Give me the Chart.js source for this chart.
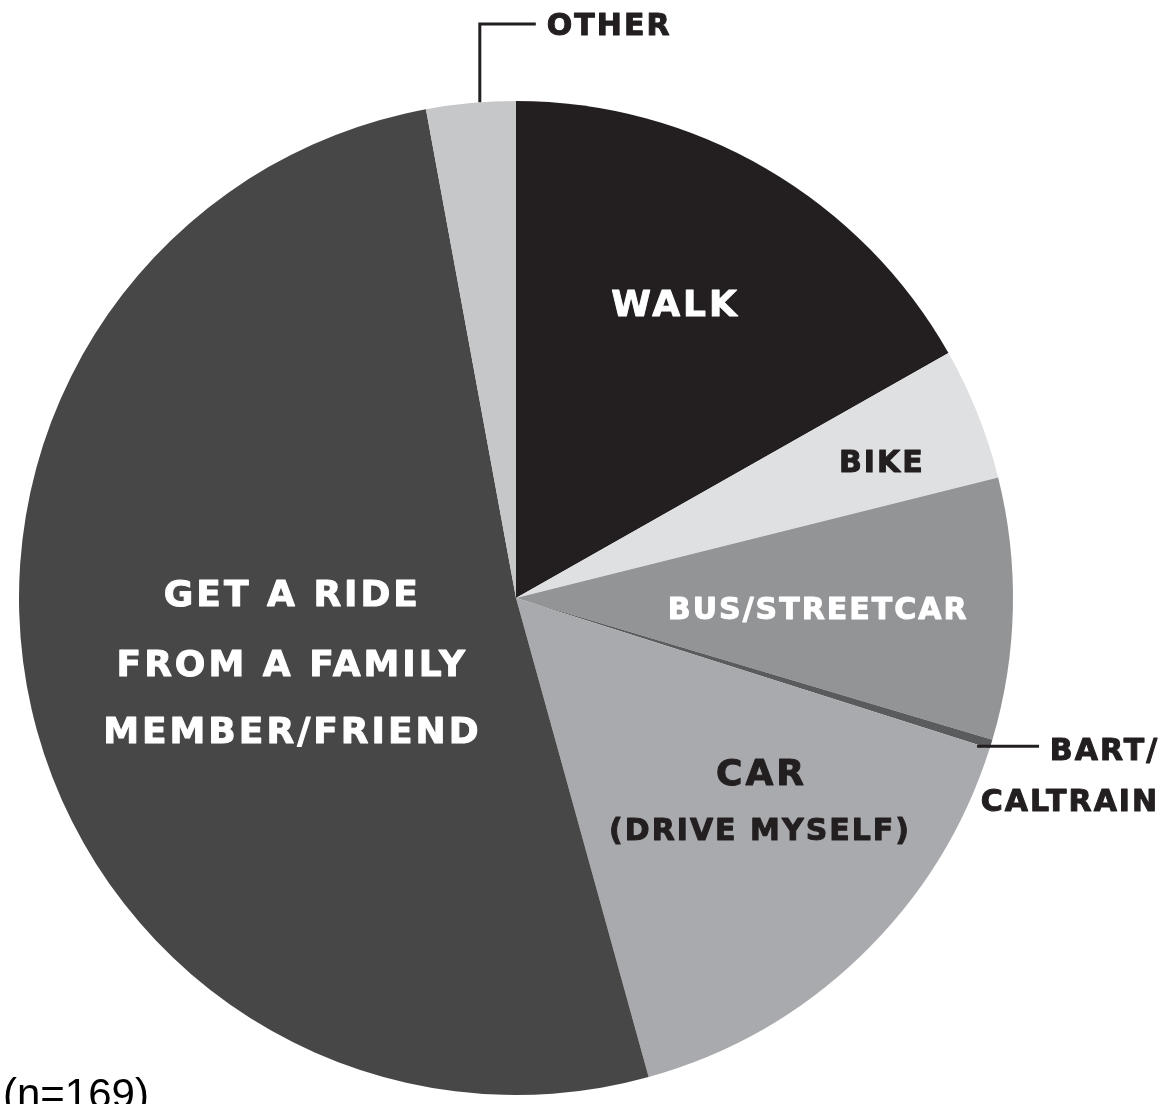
<!DOCTYPE html>
<html>
<head>
<meta charset="utf-8">
<script src="https://cdn.jsdelivr.net/npm/chart.js@4"></script>
<style>
  body { margin: 0; background: #fff; }
  canvas { display: block; }
</style>
</head>
<body>
<canvas id="pie" width="1165" height="1104"></canvas>
<script>
// how people get there (n=169), share in percent
const categories = ['WALK', 'BIKE', 'BUS/STREETCAR', 'BART/CALTRAIN', 'CAR (DRIVE MYSELF)', 'GET A RIDE FROM A FAMILY MEMBER/FRIEND', 'OTHER'];
const shares = [16.8, 4.3, 8.5, 0.3, 15.8, 51.4, 2.9];
const sampleNote = '(n=169)';

const sliceColors = ['#231f20', '#dfe0e2', '#939496', '#5a5b5d', '#a9aaad', '#474747', '#c6c7c9'];
const INK = '#231f20';

// text placed relative to the pie centre, in radius units
const labelItems = [
  { text: 'WALK', dx: 0.318, dy: -0.594, big: true, color: '#fff' },
  { text: 'BIKE', dx: 0.734, dy: -0.276, big: false, color: INK },
  { text: 'BUS/STREETCAR', dx: 0.606, dy: 0.020, big: false, color: '#fff' },
  { text: 'CAR', dx: 0.491, dy: 0.350, big: true, color: INK },
  { text: '(DRIVE MYSELF)', dx: 0.489, dy: 0.465, big: false, color: INK },
  { text: 'GET A RIDE', dx: -0.453, dy: -0.010, big: true, color: '#fff' },
  { text: 'FROM A FAMILY', dx: -0.453, dy: 0.131, big: true, color: '#fff' },
  { text: 'MEMBER/FRIEND', dx: -0.453, dy: 0.266, big: true, color: '#fff' },
  { text: 'BART/', dx: 1.290, dy: 0.303, big: false, color: INK, align: 'right' },
  { text: 'CALTRAIN', dx: 1.290, dy: 0.406, big: false, color: INK, align: 'right' },
  { text: 'OTHER', dx: 0.062, dy: -1.155, big: false, color: INK, align: 'left' }
];

function drawSpaced(ctx, text, x, yMid, size, spacing, color, align) {
  ctx.save();
  ctx.font = 'bold ' + size + 'px "DejaVu Sans"';
  ctx.letterSpacing = spacing + 'px';
  ctx.fillStyle = color;
  ctx.strokeStyle = color;
  ctx.lineWidth = 1;
  ctx.lineJoin = 'round';
  ctx.textAlign = 'left';
  ctx.textBaseline = 'alphabetic';
  const w = ctx.measureText(text).width - spacing;
  let left = x - w / 2;
  if (align === 'left') left = x;
  if (align === 'right') left = x - w;
  const base = yMid + size * 0.729 / 2;
  ctx.fillText(text, left, base);
  ctx.strokeText(text, left, base); // a touch heavier, like the poster type
  ctx.restore();
}

const pieLabels = {
  id: 'pieLabels',
  afterDraw(chart) {
    const ctx = chart.ctx;
    const arcs = chart.getDatasetMeta(0).data;
    const cx = arcs[0].x, cy = arcs[0].y, R = arcs[0].outerRadius;

    labelItems.forEach(l => {
      const size = l.big ? 36 : 30;
      const sp = l.big ? 3 : 2;
      drawSpaced(ctx, l.text, cx + l.dx * R, cy + l.dy * R, size, sp, l.color, l.align);
    });

    ctx.save();
    ctx.strokeStyle = INK;
    ctx.lineWidth = 3;
    ctx.lineCap = 'butt';

    // leader for OTHER: up from the slice edge, then across to the word
    const o = arcs[6];
    const oa = o.startAngle + (o.endAngle - o.startAngle) * 0.6;
    const ox = cx + R * Math.cos(oa), oy = cy + R * Math.sin(oa);
    const otherY = cy - 1.155 * R;
    ctx.beginPath();
    ctx.moveTo(ox, oy);
    ctx.lineTo(ox, otherY);
    ctx.lineTo(cx + 0.062 * R - 11, otherY);
    ctx.stroke();

    // leader for BART/CALTRAIN: short horizontal out of the thin slice
    const b = arcs[3];
    const bm = (b.startAngle + b.endAngle) / 2;
    const bx = cx + R * Math.cos(bm), by = cy + R * Math.sin(bm);
    ctx.beginPath();
    ctx.moveTo(bx - 14, by + 2);
    ctx.lineTo(bx + 48, by + 2);
    ctx.stroke();

    // sample size, bottom left
    ctx.fillStyle = '#000';
    ctx.font = '42px "Liberation Sans", Arial, sans-serif';
    ctx.textAlign = 'left';
    ctx.textBaseline = 'alphabetic';
    ctx.fillText(sampleNote, 3, 1108);
    ctx.restore();
  }
};

new Chart(document.getElementById('pie'), {
  type: 'pie',
  data: {
    labels: categories,
    datasets: [{
      data: shares,
      backgroundColor: sliceColors,
      borderWidth: 0
    }]
  },
  options: {
    responsive: false,
    animation: false,
    devicePixelRatio: 1,
    layout: { padding: { left: 19, right: 152, top: 101, bottom: 9 } },
    plugins: {
      legend: { display: false },
      tooltip: { enabled: false }
    }
  },
  plugins: [pieLabels]
});
</script>
</body>
</html>
